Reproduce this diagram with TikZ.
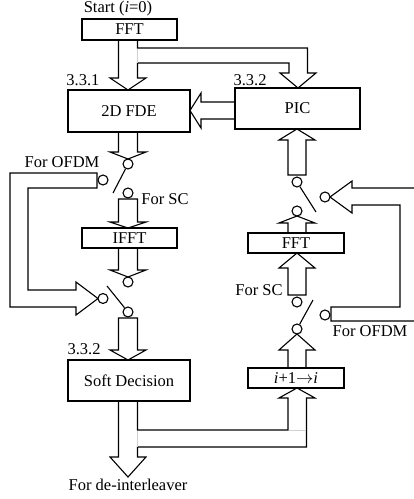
\documentclass[tikz,border=0pt]{standalone}
\usepackage{fontspec}
\setmainfont{Liberation Serif}
\begin{document}
\begin{tikzpicture}[x=1pt,y=-1pt,line width=1.1pt,
  box/.style={draw, fill=white, inner sep=0pt, font=\fontsize{16.5}{18}\selectfont},
  sw/.style={circle, draw, fill=white, minimum size=10pt, inner sep=0pt},
  lbl/.style={inner sep=0pt, font=\fontsize{16.5}{18}\selectfont},
  blk/.style={draw, fill=white, line join=miter},
  seam/.style={draw=black!18, line width=0.6pt}]
\useasboundingbox (0,0) rectangle (414,499);
% block arrows
\draw[blk] (118.5,40) -- (118.5,78) -- (110,78) -- (128,90) -- (146,78) -- (137.5,78) -- (137.5,63)
  -- (289,63) -- (289,73) -- (280,73) -- (298,88) -- (316,73) -- (307.5,73) -- (307.5,48) -- (137.5,48) -- (137.5,40);
\draw[seam] (137.5,48.5) -- (137.5,62.5);
\draw[blk] (235,102) -- (201,102) -- (201,93) -- (190,110.5) -- (201,128) -- (201,119) -- (235,119);
\draw[blk] (118.5,132) -- (118.5,152) -- (110,152) -- (128,159) -- (146,152) -- (137.5,152) -- (137.5,132);
\draw[blk] (118.5,222) -- (118.5,199) -- (137.5,199) -- (137.5,222) -- (146,222) -- (128,228) -- (110,222) -- cycle;
\draw[blk] (118.5,248) -- (118.5,270) -- (110,270) -- (128,277) -- (146,270) -- (137.5,270) -- (137.5,248);
\draw[blk] (118.5,350) -- (118.5,318) -- (137.5,318) -- (137.5,350) -- (146,350) -- (128,360) -- (110,350) -- cycle;
\draw[blk] (118.5,401) -- (118.5,457) -- (110,457) -- (128,477) -- (146,457) -- (137.5,457) -- (137.5,447)
  -- (306.5,447) -- (306.5,398) -- (315,398) -- (297,388) -- (279,398) -- (288,398) -- (288,430) -- (137.5,430) -- (137.5,401);
\draw[seam] (137.5,430.5) -- (137.5,446.5);
\draw[seam] (288.5,430) -- (306,430);
\draw[blk] (288,368) -- (288,350) -- (279,350) -- (297,334) -- (315,350) -- (306,350) -- (306,368);
\draw[blk] (288,268) -- (288,295) -- (306,295) -- (306,268) -- (315,268) -- (297,253) -- (279,268) -- cycle;
\draw[blk] (288,233) -- (288,223) -- (279,223) -- (297,216) -- (315,223) -- (306,223) -- (306,233);
\draw[blk] (288,140) -- (288,175) -- (306,175) -- (306,140) -- (315,140) -- (297,129) -- (279,140) -- cycle;
% OFDM bands
\draw[blk] (97,173) -- (10,173) -- (10,307) -- (76,307) -- (76,315) -- (98,298.5) -- (76,282) -- (76,290)
  -- (28,290) -- (28,188) -- (97,188) -- cycle;
\draw[blk] (331,307) -- (400,307) -- (400,205) -- (352,205) -- (352,213) -- (330,197) -- (352,181) -- (352,188)
  -- (420,188) -- (420,321) -- (331,321) -- cycle;
% boxes
\node[box, minimum width=95pt, minimum height=21pt] (fft1) at (129.5,29.5) {FFT};
\node[box, minimum width=122pt, minimum height=42pt] (fde) at (129,111) {2D FDE};
\node[box, minimum width=125pt, minimum height=41pt] (pic) at (297.5,108.5) {PIC};
\node[box, minimum width=95pt, minimum height=20pt] (ifft) at (129.5,238) {IFFT};
\node[box, minimum width=122pt, minimum height=41pt] (soft) at (129,380.5) {Soft Decision};
\node[box, minimum width=96pt, minimum height=20pt] (fft2) at (296,243) {FFT};
\node[box, minimum width=96pt, minimum height=20pt] (inc) at (296,378) {\textit{i}+1$\rightarrow$\textit{i}};
% switch contacts
\node[sw] (c1) at (128,164) {};
\node[sw] (c2) at (128,193) {};
\node[sw] (c3) at (103,180) {};
\node[sw] (c4) at (128,282) {};
\node[sw] (c5) at (128,312) {};
\node[sw] (c6) at (103,298.5) {};
\node[sw] (d1) at (297,182) {};
\node[sw] (d2) at (297,211) {};
\node[sw] (d3) at (325,197) {};
\node[sw] (d4) at (297,302) {};
\node[sw] (d5) at (297,329) {};
\node[sw] (d6) at (325,315) {};
% levers
\coordinate (l1) at (113,193);
\coordinate (l2) at (107,286);
\coordinate (l3) at (316,212);
\coordinate (l4) at (313,300);
\draw (c1.243) -- (l1);
\draw (c5.129) -- (l2);
\draw (d1.302) -- (l3);
\draw (d5.61) -- (l4);
% labels
\node[lbl] (start) at (118,9) {Start (\textit{i}=0)};
\node[lbl] (n331) at (83,80) {3.3.1};
\node[lbl] (n332a) at (250,80) {3.3.2};
\node[lbl] (ofdm1) at (62,162) {For OFDM};
\node[lbl] (sc1) at (165,199) {For SC};
\node[lbl] (n332b) at (84,349) {3.3.2};
\node[lbl] (deint) at (128,485) {For de-interleaver};
\node[lbl] (sc2) at (259,290) {For SC};
\node[lbl] (ofdm2) at (370,331) {For OFDM};
\end{tikzpicture}
\end{document}
